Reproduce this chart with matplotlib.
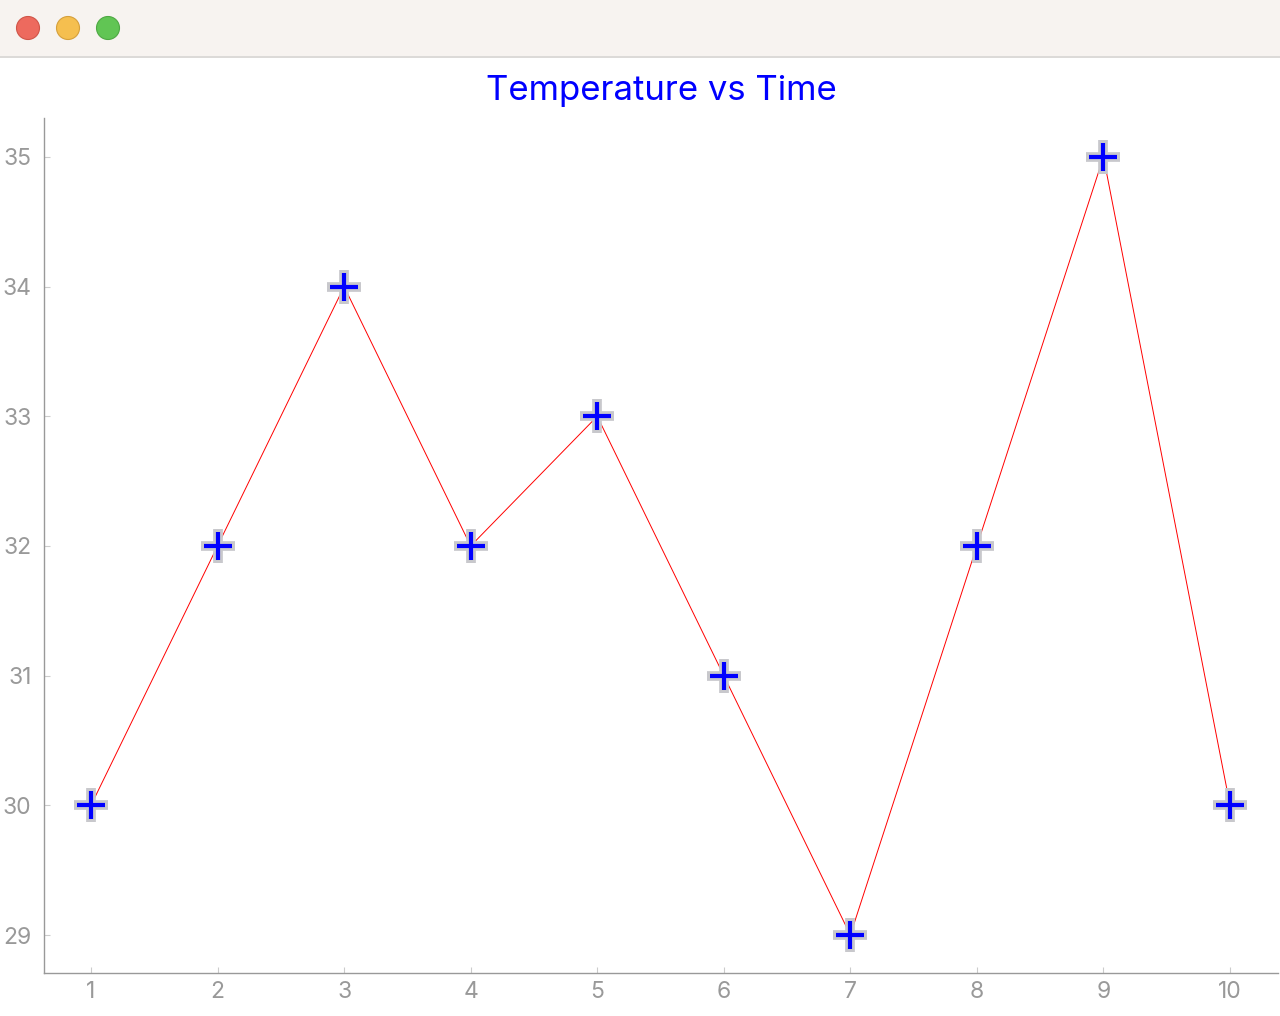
import matplotlib
matplotlib.use('Agg')
from matplotlib import pyplot as plt
from matplotlib.patches import Circle, Rectangle

time = [1, 2, 3, 4, 5, 6, 7, 8, 9, 10]
temperature = [30, 32, 34, 32, 33, 31, 29, 32, 35, 30]
yticks = [29, 30, 31, 32, 33, 34, 35]

plt.rcParams['font.family'] = ['Inter', 'DejaVu Sans']

W, H = 1280, 1016
fig = plt.figure(figsize=(W/100, H/100), dpi=100)
fig.patch.set_facecolor('white')

# window title bar, drawn in pixel coordinates
bar = fig.add_axes([0, 0, 1, 1], zorder=-1)
bar.set_xlim(0, W)
bar.set_ylim(H, 0)
bar.axis('off')
bar.add_patch(Rectangle((0, 0), W, 56, facecolor='#f7f3f0', edgecolor='none'))
bar.plot([0, W], [56.5, 56.5], color='#d6d3d1', lw=1.2)
for cx, fc, ec in [(28, '#ed6a5e', '#d05548'), (68, '#f5bf4f', '#d6a03b'), (108, '#61c554', '#4ea843')]:
    bar.add_patch(Circle((cx, 28), 11.5, facecolor=fc, edgecolor=ec, lw=0.8))

left, right, top, bottom = 44, 1278, 118, 973
ax = fig.add_axes([left/W, (H-bottom)/H, (right-left)/W, (bottom-top)/H])
ax.plot(time, temperature, color='red', lw=0.7, zorder=2)
ax.plot(time, temperature, ls='none', marker='+', ms=24, mew=7.0, color='#c8c8cc', zorder=3)
ax.plot(time, temperature, ls='none', marker='+', ms=20.5, mew=3.0, color='blue', zorder=4)

ax.set_xlim(0.6286, 10.379)
ax.set_ylim(28.707, 35.30)
ax.set_xticks(time)
ax.set_yticks(yticks)
for s in ['top', 'right']:
    ax.spines[s].set_visible(False)
for s in ['left', 'bottom']:
    ax.spines[s].set_color('#999999')
    ax.spines[s].set_linewidth(1.0)
ax.tick_params(direction='in', length=4, width=0.8, color='#cccccc',
               labelcolor='#999999', labelsize=16.5, pad=6)
ax.tick_params(axis='y', pad=9)

fig.text(661/W, 1 - 91/H, 'Temperature vs Time', color='blue', fontsize=25,
         ha='center', va='center')

fig.savefig('out.png', dpi=100)
